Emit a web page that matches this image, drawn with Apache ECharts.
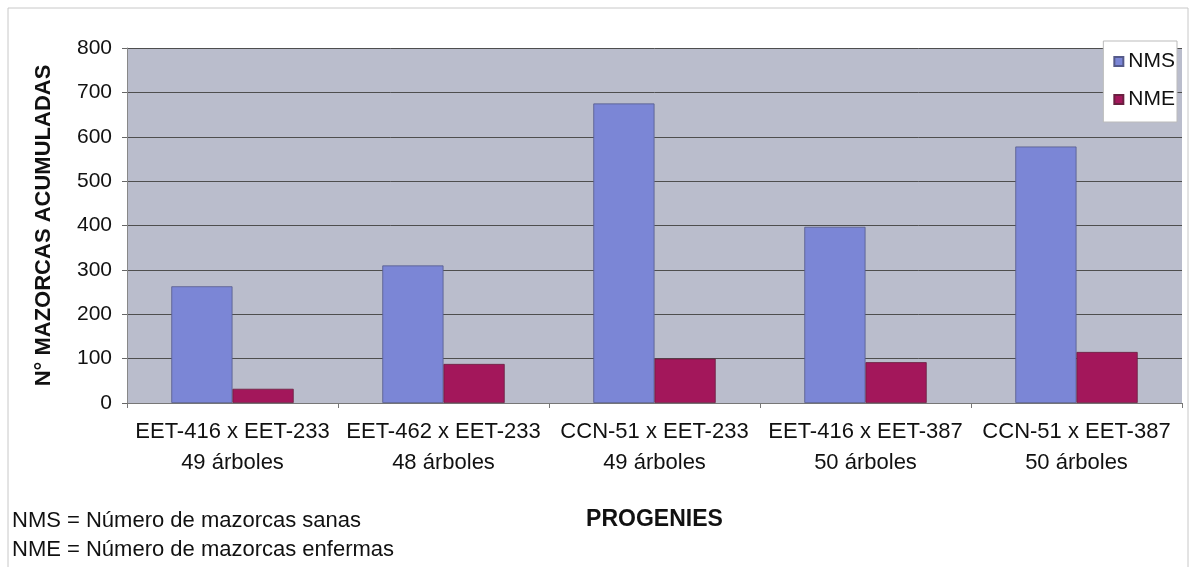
<!DOCTYPE html>
<html><head><meta charset="utf-8">
<script src="https://cdn.jsdelivr.net/npm/echarts@6/dist/echarts.min.js"></script>
<style>html,body{margin:0;padding:0;background:#fff}#c{width:1194px;height:567px}</style>
</head><body><div id="c"></div>
<script>
const categories = ['EET-416 x EET-233\n49 árboles','EET-462 x EET-233\n48 árboles','CCN-51 x EET-233\n49 árboles','EET-416 x EET-387\n50 árboles','CCN-51 x EET-387\n50 árboles'];
const nms = [263, 310, 675, 397, 578];
const nme = [32, 88, 100, 92, 115];
const yTicks = {min:0, max:800, interval:100};

const chart = echarts.init(document.getElementById('c'));
const font = 'Liberation Sans, Arial, sans-serif';
chart.setOption({
  animation:false,
  graphic:[
    {type:'rect', shape:{x:8,y:8,width:1180,height:580}, style:{fill:'none', stroke:'#c8c8c8', lineWidth:1}, silent:true},
    {type:'text', left:12, top:510, style:{text:'NMS = Número de mazorcas sanas', font:'22px '+font, fill:'#111'}},
    {type:'text', left:12, top:539, style:{text:'NME = Número de mazorcas enfermas', font:'22px '+font, fill:'#111'}}
  ],
  grid:{left:127, right:12, top:48, bottom:164, backgroundColor:'#babdcc', show:true, borderWidth:0},
  legend:{
    orient:'vertical', right:17, top:41, itemWidth:9, itemHeight:9, itemGap:17,
    backgroundColor:'#ffffff', borderColor:'#bbbbbb', borderWidth:1, padding:[10,2,12,10],
    textStyle:{fontSize:21, fontFamily:font, color:'#111'},
    data:[{name:'NMS', icon:'rect'},{name:'NME', icon:'rect'}]
  },
  xAxis:{
    type:'category', data:categories,
    name:'PROGENIES', nameLocation:'middle', nameGap:105,
    nameTextStyle:{fontSize:23, fontWeight:'bold', fontFamily:font, color:'#111'},
    axisLine:{show:true, lineStyle:{color:'#777'}},
    axisTick:{show:true, length:5, lineStyle:{color:'#777'}},
    axisLabel:{interval:0, fontSize:22, fontFamily:font, color:'#111', lineHeight:31, margin:13}
  },
  yAxis:{
    type:'value', min:yTicks.min, max:yTicks.max, interval:yTicks.interval,
    name:'N° MAZORCAS ACUMULADAS', nameLocation:'middle', nameGap:72, nameRotate:90,
    nameTextStyle:{fontSize:22, fontWeight:'bold', fontFamily:font, color:'#111'},
    axisLine:{show:true, lineStyle:{color:'#888'}},
    axisTick:{show:true, length:5, lineStyle:{color:'#666'}},
    axisLabel:{fontSize:21, fontFamily:font, color:'#111', margin:15},
    splitLine:{show:true, lineStyle:{color:'#4e4e4e', width:1}}
  },
  series:[
    {name:'NMS', type:'bar', data:nms, barGap:'0%', barCategoryGap:'42%',
     itemStyle:{color:'#7b86d6', borderColor:'#555a8a', borderWidth:0.8}},
    {name:'NME', type:'bar', data:nme,
     itemStyle:{color:'#a3175b', borderColor:'#6a2040', borderWidth:0.8}}
  ]
});
</script></body></html>
